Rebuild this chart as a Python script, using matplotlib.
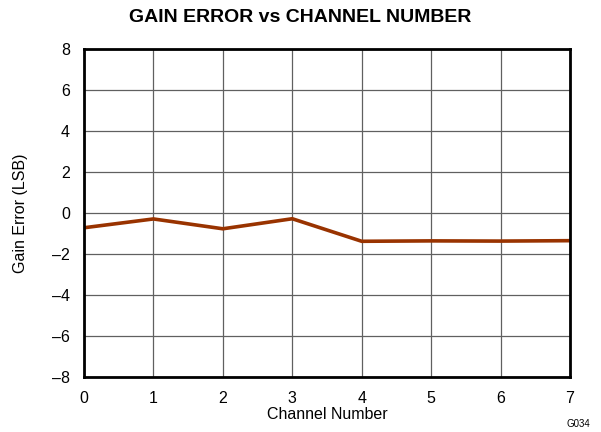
import matplotlib
matplotlib.use("Agg")
import matplotlib.pyplot as plt

plt.rcParams['font.family'] = ['Liberation Sans', 'DejaVu Sans']

# data
channels = [0, 1, 2, 3, 4, 5, 6, 7]
gain_error = [-0.72, -0.29, -0.77, -0.28, -1.38, -1.36, -1.37, -1.35]
y_ticks = [-8, -6, -4, -2, 0, 2, 4, 6, 8]

fig = plt.figure(figsize=(6.01, 4.32), dpi=100)
ax = fig.add_axes([84 / 601, 55 / 432, 486 / 601, 328 / 432])

ax.plot(channels, gain_error, color='#993300', lw=2.6, solid_joinstyle='miter')

ax.set_xlim(0, 7)
ax.set_ylim(-8, 8)
ax.set_xticks(channels)
ax.set_yticks(y_ticks)
ax.set_yticklabels([str(v).replace('-', '\u2013') for v in y_ticks])
ax.grid(True, color='#606060', lw=0.9)
ax.tick_params(length=0, labelsize=11.5)
ax.tick_params(axis='y', pad=10)
ax.tick_params(axis='x', pad=10)
for s in ax.spines.values():
    s.set_linewidth(2)
    s.set_color('black')

ax.set_xlabel('Channel Number', fontsize=11.5, labelpad=1)
ax.set_ylabel('Gain Error (LSB)', fontsize=11.5, labelpad=17)
fig.text(300 / 601, 1 - 18 / 432, 'GAIN ERROR vs CHANNEL NUMBER',
         ha='center', va='center', fontsize=14, fontweight='bold')
fig.text(578 / 601, 1 - 424 / 432, 'G034', ha='center', va='center', fontsize=7)

fig.savefig('out.png', dpi=100)
